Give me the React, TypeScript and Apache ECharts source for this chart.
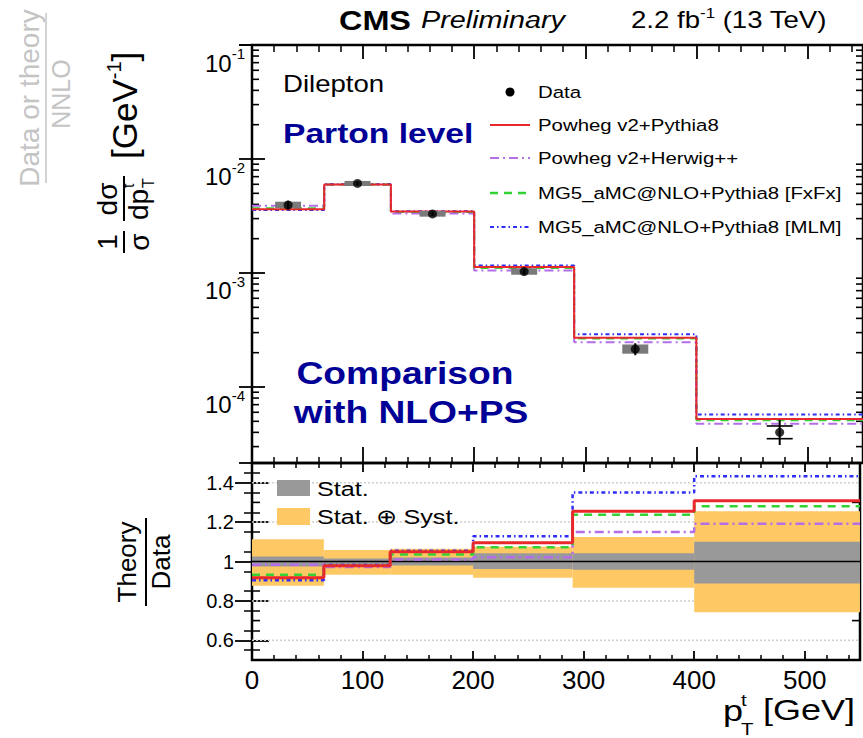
import React, { useEffect, useRef } from "react";
import * as echarts from "echarts";

// Top-quark pT binning [GeV]
const binEdges = [0, 65, 125, 200, 290, 400, 550];
const binCenters = [32.5, 95, 162.5, 245, 345, 475];

// Normalised differential cross section 1/sigma dsigma/dpT [GeV^-1], data
const dataValues = [3.95e-3, 6.1e-3, 3.3e-3, 1.03e-3, 2.15e-4, 4.0e-5];
const dataBoxLow = [3.7e-3, 5.8e-3, 3.12e-3, 0.965e-3, 1.96e-4, 3.52e-5];
const dataBoxHigh = [4.22e-3, 6.42e-3, 3.5e-3, 1.1e-3, 2.36e-4, 4.55e-5];
const dataBarLow = [3.62e-3, 5.85e-3, 3.17e-3, 0.97e-3, 1.9e-4, 3.1e-5];
const dataBarHigh = [4.3e-3, 6.38e-3, 3.44e-3, 1.09e-3, 2.42e-4, 5.15e-5];

// NLO+PS predictions
const powhegPythia8 = [3.62e-3, 5.97e-3, 3.465e-3, 1.128e-3, 2.7e-4, 5.23e-5];
const powhegHerwig = [3.88e-3, 5.93e-3, 3.33e-3, 1.053e-3, 2.47e-4, 4.77e-5];
const mg5FxFx = [3.69e-3, 5.97e-3, 3.42e-3, 1.104e-3, 2.66e-4, 5.12e-5];
const mg5MLM = [3.57e-3, 5.99e-3, 3.48e-3, 1.162e-3, 2.9e-4, 5.73e-5];

// Theory / Data
const ratioPowhegPythia8 = [0.917, 0.978, 1.05, 1.095, 1.255, 1.308];
const ratioPowhegHerwig = [0.983, 0.972, 1.01, 1.022, 1.15, 1.192];
const ratioFxFx = [0.933, 0.978, 1.035, 1.072, 1.237, 1.28];
const ratioMLM = [0.905, 0.982, 1.055, 1.128, 1.35, 1.433];

// Relative uncertainty bands of the data
const statLow = [0.975, 0.985, 0.98, 0.962, 0.958, 0.888];
const statHigh = [1.025, 1.015, 1.02, 1.042, 1.042, 1.1];
const totalLow = [0.877, 0.933, 0.933, 0.917, 0.867, 0.742];
const totalHigh = [1.113, 1.058, 1.065, 1.075, 1.125, 1.255];

// Axis ticks
const xMajorTicks = [0, 100, 200, 300, 400, 500];
const ratioMajorTicks = [0.6, 0.8, 1, 1.2, 1.4];
const ratioOddMinorTicks = [0.7, 0.9, 1.1, 1.3];
const ratioGridLines = [0.6, 0.8, 1.2, 1.4];

const X_MIN = 0;
const X_MAX = 550;
const LOG_MIN = Math.pow(10, -4.6667);
const LOG_MAX = 0.1;
const R_MIN = 0.5;
const R_MAX = 1.5;

const FONT = '"Liberation Sans", Arial, Helvetica, sans-serif';
const SX = 1.2;

const RED = "#e8282b";
const PURPLE = "#b46ee8";
const GREEN = "#35d235";
const BLUE = "#2e2ef5";
const ORANGE = "#fec964";
const STATGRAY = "#999999";
const NAVY = "#000096";

const DASH_HERWIG = [9, 4, 2, 4];
const DASH_FXFX = [8, 6];
const DASH_MLM = [4, 3, 1.5, 3];

const TICK_STYLE = { color: "#000", width: 1.8 };

function stepPoints(values: number[]) {
  return binEdges.map((e, i) => [e, values[Math.min(i, values.length - 1)]]);
}

function capLine(x1: number, y1: number, x2: number, y2: number) {
  return {
    type: "line",
    shape: { x1, y1, x2, y2 },
    style: { stroke: "#000", lineWidth: 1.6 },
  };
}

// 2..9 x 10^k positions between the decades of the log axis
function logMinorTicks() {
  const out: number[] = [];
  for (let e = -5; e <= -2; e++) {
    for (let k = 2; k <= 9; k++) {
      const v = k * Math.pow(10, e);
      if (v > LOG_MIN && v < LOG_MAX) out.push(v);
    }
  }
  return out;
}

// Short ticks on the left and right frame edges at the given y values
function edgeTickSeries(xi: number, yi: number, values: number[], len: number) {
  return {
    type: "custom",
    xAxisIndex: xi,
    yAxisIndex: yi,
    silent: true,
    z: 1,
    data: values.map((v) => [X_MIN, v]),
    renderItem: (_p: any, api: any) => {
      const a = api.coord([X_MIN, api.value(1)]);
      const b = api.coord([X_MAX, api.value(1)]);
      return {
        type: "group",
        children: [
          { type: "line", shape: { x1: a[0], y1: a[1], x2: a[0] + len, y2: a[1] }, style: { stroke: "#000", lineWidth: 1.6 } },
          { type: "line", shape: { x1: b[0], y1: b[1], x2: b[0] - len, y2: b[1] }, style: { stroke: "#000", lineWidth: 1.6 } },
        ],
      };
    },
  };
}

function stepSeries(name: string, values: number[], color: string, width: number, dash: any, xi: number, yi: number, z: number) {
  return {
    name,
    type: "line",
    xAxisIndex: xi,
    yAxisIndex: yi,
    step: "end",
    symbol: "none",
    silent: true,
    z,
    data: stepPoints(values),
    lineStyle: { color, width, type: dash, cap: "butt" },
  };
}

function bandSeries(lo: number[], hi: number[], color: string, z: number) {
  return {
    type: "custom",
    xAxisIndex: 2,
    yAxisIndex: 2,
    silent: true,
    z,
    data: lo.map((l, i) => [binEdges[i], l, binEdges[i + 1], hi[i]]),
    renderItem: (_p: any, api: any) => {
      const p1 = api.coord([api.value(0), api.value(3)]);
      const p2 = api.coord([api.value(2), api.value(1)]);
      return {
        type: "rect",
        shape: { x: p1[0], y: p1[1], width: p2[0] - p1[0], height: p2[1] - p1[1] },
        style: { fill: color },
      };
    },
  };
}

function txt(x: number, y: number, text: string, size: number, o: any = {}) {
  const align = o.align || "left";
  return {
    type: "text",
    x,
    y,
    scaleX: o.scaleX ?? SX,
    scaleY: o.scaleY ?? 1,
    z: 100,
    style: {
      text,
      fontFamily: o.font || FONT,
      fontSize: size,
      fontWeight: o.weight || "normal",
      fontStyle: o.italic ? "italic" : "normal",
      fill: o.color || "#000",
      align,
      textAlign: align,
      verticalAlign: "middle",
      textVerticalAlign: "middle",
      rich: o.rich,
    },
  };
}

function gLine(x1: number, y1: number, x2: number, y2: number, color: string, width: number, dash?: number[]) {
  return {
    type: "line",
    z: 100,
    shape: { x1, y1, x2, y2 },
    style: { stroke: color, lineWidth: width, lineDash: dash || null },
  };
}

function buildGraphics() {
  const g: any[] = [];
  // header
  g.push(txt(339, 20, "CMS", 27, { weight: "bold" }));
  g.push(txt(421, 20, "Preliminary", 24, { italic: true }));
  g.push(
    txt(631, 20, "{a|2.2 fb}{s|-1}{a| (13 TeV)}", 23, {
      rich: {
        a: { fontSize: 23, lineHeight: 28, fontFamily: FONT },
        s: { fontSize: 14, lineHeight: 14, verticalAlign: "top", fontFamily: FONT },
      },
    })
  );

  // annotations inside the main panel
  g.push(txt(283, 84, "Dilepton", 23));
  g.push(txt(283, 133, "Parton level", 28, { weight: "bold", color: NAVY }));
  g.push(txt(405, 373, "Comparison", 31, { weight: "bold", color: NAVY, align: "center" }));
  g.push(txt(411, 412, "with NLO+PS", 31, { weight: "bold", color: NAVY, align: "center" }));

  // legend of the main panel
  const lx0 = 490;
  const lx1 = 530;
  const tx = 538;
  g.push({ type: "circle", z: 100, shape: { cx: 510, cy: 92, r: 4.5 }, style: { fill: "#000" } });
  g.push(txt(tx, 92, "Data", 17));
  g.push(gLine(lx0, 125, lx1, 125, RED, 2));
  g.push(txt(tx, 125, "Powheg v2+Pythia8", 17));
  g.push(gLine(lx0, 158, lx1, 158, PURPLE, 2, DASH_HERWIG));
  g.push(txt(tx, 158, "Powheg v2+Herwig++", 17));
  g.push(gLine(lx0, 193, lx1, 193, GREEN, 2.5, DASH_FXFX));
  g.push(txt(tx, 193, "MG5_aMC@NLO+Pythia8 [FxFx]", 17));
  g.push(gLine(lx0, 227, lx1, 227, BLUE, 2, DASH_MLM));
  g.push(txt(tx, 227, "MG5_aMC@NLO+Pythia8 [MLM]", 17));

  // legend of the ratio panel
  g.push({ type: "rect", z: 100, shape: { x: 277, y: 480, width: 33, height: 16 }, style: { fill: STATGRAY } });
  g.push(txt(317, 489, "Stat.", 21));
  g.push({ type: "rect", z: 100, shape: { x: 277, y: 508, width: 33, height: 17 }, style: { fill: ORANGE } });
  g.push(txt(317, 517, "Stat. \u2295 Syst.", 21));

  // x-axis title
  g.push(txt(723, 711, "p", 30));
  g.push(txt(741, 700, "t", 17));
  g.push(txt(741, 729, "T", 17));
  g.push(txt(763, 710, "[GeV]", 30));

  // y-axis title of the main panel (rotated fraction)
  g.push({
    type: "group",
    x: 124,
    y: 254,
    rotation: Math.PI / 2,
    z: 100,
    children: [
      txt(12, -17, "1", 28, { align: "center", scaleX: 1 }),
      gLine(1, 0, 23, 0, "#000", 2),
      txt(12, 15, "\u03c3", 28, { align: "center", scaleX: 1 }),
      txt(55, -17, "d\u03c3", 28, { align: "center", scaleX: 1 }),
      gLine(33, 0, 78, 0, "#000", 2),
      txt(34, 14, "dp", 28, { scaleX: 1 }),
      txt(66, 4, "t", 16, { scaleX: 1 }),
      txt(66, 24, "T", 16, { scaleX: 1 }),
      txt(95, 0, "{a|[GeV}{s|-1}{a|]}", 35, {
        scaleX: 1,
        rich: {
          a: { fontSize: 35, lineHeight: 40, fontFamily: FONT },
          s: { fontSize: 20, lineHeight: 20, verticalAlign: "top", fontFamily: FONT },
        },
      }),
    ],
  });

  // y-axis title of the ratio panel
  g.push({
    type: "group",
    x: 146,
    y: 562,
    rotation: Math.PI / 2,
    z: 100,
    children: [
      txt(0, -19, "Theory", 26, { align: "center", scaleX: 1 }),
      gLine(-44, 0, 44, 0, "#000", 2),
      txt(0, 15, "Data", 26, { align: "center", scaleX: 1 }),
    ],
  });

  // faint title remnant along the left edge
  const faint = "#c4c4c4";
  g.push({
    type: "group",
    x: 46,
    y: 98,
    rotation: Math.PI / 2,
    z: 100,
    children: [
      txt(0, -17, "Data or theory", 28, { align: "center", scaleX: 1, color: faint }),
      gLine(-85, 0, 85, 0, faint, 1.5),
      txt(4, 15, "NNLO", 25, { align: "center", scaleX: 1, color: faint }),
    ],
  });
  return g;
}

function xAxisDef(gridIndex: number, position: string, len: number, minorLen: number, labels: boolean) {
  return {
    type: "value",
    gridIndex,
    position,
    min: X_MIN,
    max: X_MAX,
    interval: 100,
    axisLine: { show: false },
    splitLine: { show: false },
    axisTick: { show: true, inside: true, length: len, lineStyle: TICK_STYLE },
    minorTick: { show: true, splitNumber: 5, length: minorLen, lineStyle: { color: "#000", width: 1.5 } },
    axisLabel: labels
      ? {
          fontSize: 26,
          color: "#000",
          margin: 7,
          formatter: (v: number) => (xMajorTicks.indexOf(Math.round(v)) >= 0 ? String(Math.round(v)) : ""),
        }
      : { show: false },
  };
}

function logAxisDef(position: string, labels: boolean) {
  return {
    type: "log",
    logBase: 10,
    gridIndex: 0,
    position,
    min: LOG_MIN,
    max: LOG_MAX,
    axisLine: { show: false },
    splitLine: { show: false },
    axisTick: { show: true, inside: true, length: 13, lineStyle: TICK_STYLE },
    axisLabel: labels
      ? {
          margin: 7,
          formatter: (v: number) => {
            const e = Math.log10(v);
            const r = Math.round(e);
            if (Math.abs(e - r) > 1e-6) return "";
            return `{b|10}{s|${r}}`;
          },
          rich: {
            b: { fontSize: 24, lineHeight: 24, padding: [18, 0, 0, 0], verticalAlign: "top", color: "#000", fontFamily: FONT },
            s: { fontSize: 15, lineHeight: 15, padding: [13, 0, 0, 0], verticalAlign: "top", color: "#000", fontFamily: FONT },
          },
        }
      : { show: false },
  };
}

function ratioAxisDef(position: string, labels: boolean) {
  return {
    type: "value",
    gridIndex: 1,
    position,
    min: R_MIN,
    max: R_MAX,
    interval: 0.1,
    axisLine: { show: false },
    splitLine: { show: false },
    axisTick: { show: true, inside: true, length: 17, lineStyle: TICK_STYLE, customValues: ratioMajorTicks },
    minorTick: { show: true, splitNumber: 2, length: 8, lineStyle: { color: "#000", width: 1.5 } },
    axisLabel: labels
      ? {
          fontSize: 20,
          color: "#000",
          margin: 18,
          formatter: (v: number) => {
            const r = Math.round(v * 10);
            return r % 2 === 0 && r >= 6 && r <= 14 ? String(r / 10) : "";
          },
        }
      : { show: false },
  };
}

function buildOption() {
  const grid0 = { left: 252, top: 45, width: 614, height: 418, show: true, borderColor: "#000", borderWidth: 2.5 };
  const grid1 = { left: 252, top: 463, width: 614, height: 197, show: true, borderColor: "#000", borderWidth: 2.5 };

  return {
    animation: false,
    textStyle: { fontFamily: FONT, color: "#000" },
    grid: [grid0, grid1],
    xAxis: [
      xAxisDef(0, "bottom", 16, 6, false),
      xAxisDef(0, "top", 14, 7, false),
      xAxisDef(1, "bottom", 9, 5, true),
      xAxisDef(1, "top", 9, 5, false),
    ],
    yAxis: [logAxisDef("left", true), logAxisDef("right", false), ratioAxisDef("left", true), ratioAxisDef("right", false)],
    series: [
      // main panel
      stepSeries("Powheg v2+Herwig++", powhegHerwig, PURPLE, 2, DASH_HERWIG, 0, 0, 3),
      stepSeries("MG5_aMC@NLO+Pythia8 [FxFx]", mg5FxFx, GREEN, 2, DASH_FXFX, 0, 0, 4),
      stepSeries("MG5_aMC@NLO+Pythia8 [MLM]", mg5MLM, BLUE, 2, DASH_MLM, 0, 0, 5),
      stepSeries("Powheg v2+Pythia8", powhegPythia8, RED, 2, "solid", 0, 0, 6),
      {
        type: "custom",
        xAxisIndex: 0,
        yAxisIndex: 0,
        silent: true,
        z: 7,
        data: dataValues.map((v, i) => [binCenters[i], v, dataBoxLow[i], dataBoxHigh[i], dataBarLow[i], dataBarHigh[i]]),
        renderItem: (_p: any, api: any) => {
          const x = api.value(0);
          const bl = api.coord([x, api.value(2)]);
          const bh = api.coord([x, api.value(3)]);
          const el = api.coord([x, api.value(4)]);
          const eh = api.coord([x, api.value(5)]);
          const hw = 13;
          const children: any[] = [];
          if (bl[1] - bh[1] > 10) {
            children.push(capLine(bl[0] - hw, bl[1], bl[0] + hw, bl[1]));
            children.push(capLine(bh[0] - hw, bh[1], bh[0] + hw, bh[1]));
          } else {
            children.push({
              type: "rect",
              shape: { x: bh[0] - hw, y: bh[1], width: 2 * hw, height: bl[1] - bh[1] },
              style: { fill: "#7a7a7a" },
            });
          }
          children.push({ type: "line", shape: { x1: el[0], y1: el[1], x2: eh[0], y2: eh[1] }, style: { stroke: "#000", lineWidth: 2 } });
          return { type: "group", children };
        },
      },
      {
        name: "Data",
        type: "scatter",
        xAxisIndex: 0,
        yAxisIndex: 0,
        symbol: "circle",
        symbolSize: 9,
        silent: true,
        z: 8,
        itemStyle: { color: "#000" },
        data: dataValues.map((v, i) => [binCenters[i], v]),
      },
      edgeTickSeries(0, 0, logMinorTicks(), 7),

      // ratio panel
      {
        type: "custom",
        xAxisIndex: 2,
        yAxisIndex: 2,
        silent: true,
        z: 1,
        data: ratioGridLines.map((v) => [X_MIN, v]),
        renderItem: (_p: any, api: any) => {
          const a = api.coord([X_MIN, api.value(1)]);
          const b = api.coord([X_MAX, api.value(1)]);
          return {
            type: "line",
            shape: { x1: a[0], y1: a[1], x2: b[0], y2: b[1] },
            style: { stroke: "#cfcfcf", lineWidth: 1.5, lineDash: [2, 2] },
          };
        },
      },
      bandSeries(totalLow, totalHigh, ORANGE, 2),
      bandSeries(statLow, statHigh, STATGRAY, 3),
      {
        type: "line",
        xAxisIndex: 2,
        yAxisIndex: 2,
        symbol: "none",
        silent: true,
        z: 4,
        data: [
          [X_MIN, 1],
          [X_MAX, 1],
        ],
        lineStyle: { color: "#000", width: 1.5 },
      },
      stepSeries("Powheg v2+Herwig++", ratioPowhegHerwig, PURPLE, 2.5, DASH_HERWIG, 2, 2, 5),
      stepSeries("MG5_aMC@NLO+Pythia8 [FxFx]", ratioFxFx, GREEN, 2.5, DASH_FXFX, 2, 2, 6),
      stepSeries("MG5_aMC@NLO+Pythia8 [MLM]", ratioMLM, BLUE, 2.5, DASH_MLM, 2, 2, 7),
      stepSeries("Powheg v2+Pythia8", ratioPowhegPythia8, RED, 3, "solid", 2, 2, 8),
      edgeTickSeries(2, 2, ratioOddMinorTicks, 8),
    ],
    graphic: buildGraphics(),
  };
}

export default function App() {
  const ref = useRef<HTMLDivElement>(null);
  useEffect(() => {
    if (!ref.current) return;
    const chart = echarts.init(ref.current, null, { renderer: "svg" });
    chart.setOption(buildOption() as any);
    return () => chart.dispose();
  }, []);
  return (
    <div
      ref={ref}
      style={{ position: "absolute", left: 0, top: 0, width: 863, height: 738, background: "#fff" }}
    />
  );
}
